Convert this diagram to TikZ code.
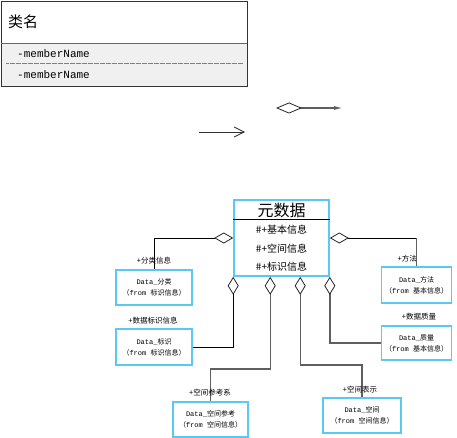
\documentclass[tikz,border=0pt]{standalone}
\usepackage{fontspec}
\newfontfamily\cjk{Noto Sans CJK SC}
\newfontfamily\lmono{Liberation Mono}
\usetikzlibrary{arrows.meta,calc}
\definecolor{umlblue}{RGB}{90,200,245}
\definecolor{connGray}{RGB}{95,95,95}
\definecolor{panelGray}{RGB}{240,240,240}
% two-line caption of a referenced class: "Data_<name>" / "(from <package>)"
\newcommand{\umlref}[2]{{\lmono Data\_}{\cjk #1}\\{\cjk （}{\lmono from }{\cjk #2）}}
\begin{document}
\begin{tikzpicture}[x=1pt,y=-1pt,
  refbox/.style={draw=umlblue,line width=1.6pt,fill=white,inner sep=0pt,
    align=center,font=\fontsize{7}{11}\selectfont},
  role/.style={font=\cjk\fontsize{7.5}{8}\selectfont,inner sep=0pt},
  blackconn/.style={draw=black,line width=0.8pt},
  grayconn/.style={draw=connGray,line width=1.4pt},
  agg/.style={{Diamond[open,length=19pt,width=11pt,line width=0.8pt,color=black!85]}-},
  aggv/.style={{Diamond[open,length=18pt,width=11pt,line width=0.8pt,color=black!85]}-},
]
\useasboundingbox (0,0) rectangle (457,438);
\fill[white] (0,0) rectangle (457,438);

% ---- generic class symbol ----
\fill[panelGray] (1,43) rectangle (247,86);
\node[draw=black!80,line width=0.8pt,minimum width=246pt,minimum height=85pt,
  inner sep=0pt,anchor=north west] (cls) at (1,1) {};
\draw[black!60,line width=0.6pt] (1,43) -- (247,43);
\draw[black!50,line width=0.6pt,dash pattern=on 0.6pt off 0.6pt] (6,63) -- (243,63);
\node[anchor=west,font=\cjk\fontsize{15}{15}\selectfont,inner sep=0pt] (clsname) at (8,22) {类名};
\node[anchor=west,font=\lmono\fontsize{11}{11}\selectfont,inner sep=0pt] (m1) at (17,54) {-memberName};
\node[anchor=west,font=\lmono\fontsize{11}{11}\selectfont,inner sep=0pt] (m2) at (17,75) {-memberName};

% ---- legend arrows ----
\coordinate (d0) at (276,108);
\coordinate (d1) at (343,108);
\draw[connGray,line width=1.3pt,
  {Diamond[open,length=26pt,width=11pt,line width=0.8pt,color=black!85]}-{Latex[length=9pt,width=4pt]}] (d0) -- (d1);
\coordinate (a0) at (199,132);
\coordinate (a1) at (245,132);
\draw[black!80,line width=0.8pt,-{Straight Barb[length=10pt,width=10pt]}] (a0) -- (a1);

% ---- central class ----
\node[draw=umlblue,line width=1.6pt,minimum width=95pt,minimum height=76pt,inner sep=0pt] (meta) at (281.5,238) {};
\draw[black,line width=0.8pt] (meta.west |- 0,219) -- (meta.east |- 0,219);
\node[font=\cjk\fontsize{16}{16}\selectfont,inner sep=0pt] (metaname) at (281.5,210) {元数据};
\node[font=\cjk\fontsize{10}{10}\selectfont,inner sep=0pt] (attr1) at (281.5,230) {\#+基本信息};
\node[font=\cjk\fontsize{10}{10}\selectfont,inner sep=0pt] (attr2) at (281.5,249) {\#+空间信息};
\node[font=\cjk\fontsize{10}{10}\selectfont,inner sep=0pt] (attr3) at (281.5,267) {\#+标识信息};

% ---- referenced classes ----
\node[refbox,minimum width=76pt,minimum height=35pt] (fenlei) at (154,287.5) {\umlref{分类}{标识信息}};
\node[refbox,minimum width=76pt,minimum height=36pt] (biaoshi) at (154,347) {\umlref{标识}{标识信息}};
\node[refbox,minimum width=70pt,minimum height=36pt] (fangfa) at (416.5,285) {\umlref{方法}{基本信息}};
\node[refbox,minimum width=70pt,minimum height=34pt] (zhiliang) at (416.5,343) {\umlref{质量}{基本信息}};
\node[refbox,minimum width=75pt,minimum height=35pt] (kjck) at (210.5,419.5) {\umlref{空间参考}{空间信息}};
\node[refbox,minimum width=78pt,minimum height=35pt] (kongjian) at (362,415.5) {\umlref{空间}{空间信息}};

% ---- aggregation connectors ----
\draw[blackconn,agg] (meta.west) -| (fenlei.north);
\coordinate (rcorner) at (meta.east -| fangfa.north);
\draw[blackconn,agg] (meta.east) -- (rcorner);
\draw[grayconn] (rcorner) -- (fangfa.north);

\coordinate (b1) at (meta.south west);
\coordinate (b2) at ($(meta.south west)+(37,0)$);
\coordinate (b3) at ($(meta.south west)+(67,0)$);
\coordinate (b4) at (meta.south east);
\coordinate (k1) at ($(b2)+(0,92)$);
\coordinate (k2) at ($(b3)+(0,88)$);
\draw[blackconn,aggv] (b1) |- (biaoshi.east);
\draw[grayconn,aggv] (b2) -- (k1) -| (kjck.north);
\draw[grayconn,aggv] (b3) -- (k2) -| (kongjian.north);
\draw[grayconn,aggv] (b4) |- (zhiliang.west);

% ---- role names ----
\node[role] (lfenlei) at (154,261) {+分类信息};
\node[role] (lbiaoshi) at (153,321) {+数据标识信息};
\node[role,anchor=east] (lfangfa) at (417,259) {+方法};
\node[role] (lzhiliang) at (419,317) {+数据质量};
\node[role] (lkjck) at (210,393) {+空间参考系};
\node[role] (lkongjian) at (360,390) {+空间表示};
\end{tikzpicture}
\end{document}
